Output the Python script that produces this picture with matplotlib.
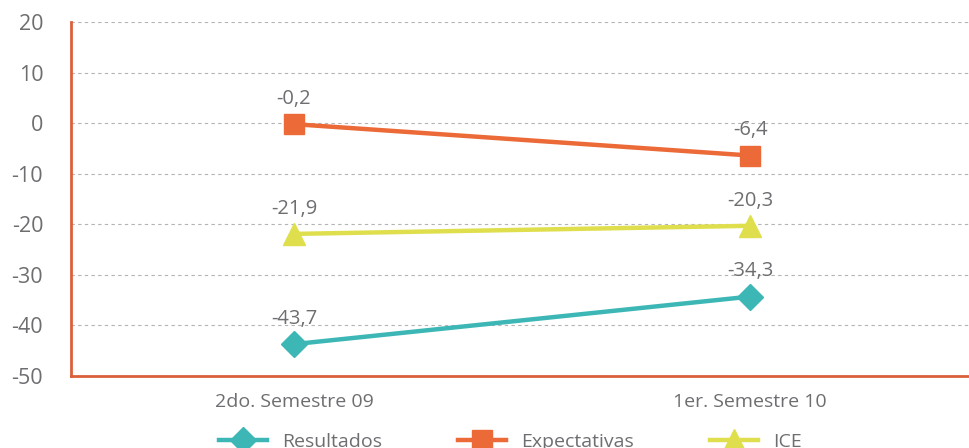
import matplotlib
matplotlib.use("Agg")
import matplotlib.pyplot as plt

categories = ["2do. Semestre 09", "1er. Semestre 10"]
resultados = [-43.7, -34.3]
expectativas = [-0.2, -6.4]
ice = [-21.9, -20.3]
series_names = ["Resultados", "Expectativas", "ICE"]
yticks = [20, 10, 0, -10, -20, -30, -40, -50]

TEXT = "#6d6e71"
SPINE = "#d9603b"
COLORS = ["#3db7b6", "#ec6a38", "#dfdf4d"]
MARKERS = ["D", "s", "^"]
MSIZE = [13, 14, 16]

plt.rcParams["font.family"] = ["Open Sans", "DejaVu Sans"]
plt.rcParams["axes.unicode_minus"] = False

fig = plt.figure(figsize=(9.69, 4.48), dpi=100)
ax = fig.add_axes([71 / 969, 1 - 376 / 448, 1 - 71 / 969, (376 - 22) / 448])

x = list(range(len(categories)))
for vals, name, c, m, ms in zip([resultados, expectativas, ice], series_names, COLORS, MARKERS, MSIZE):
    ax.plot(x, vals, color=c, linewidth=3.2, marker=m, markersize=ms, label=name, zorder=3)
    for xi, v in zip(x, vals):
        ax.annotate(f"{v:.1f}".replace(".", ","), (xi, v), xytext=(0, 11), textcoords="offset points",
                    ha="center", va="bottom", fontsize=14.5, color=TEXT)

ax.set_ylim(-50, 20)
ax.set_yticks(yticks)
ax.set_xlim(-0.489, 1.48)
ax.set_xticks(x)
ax.set_xticklabels(categories)
ax.tick_params(axis="both", length=0, colors=TEXT)
ax.tick_params(axis="x", pad=12, labelsize=14)
ax.tick_params(axis="y", pad=20, labelsize=15.5)
ax.grid(axis="y", color="#b3b3b3", linestyle=(0, (3, 3)), linewidth=0.8)
for s in ["top", "right"]:
    ax.spines[s].set_visible(False)
for s in ["left", "bottom"]:
    ax.spines[s].set_color(SPINE)
    ax.spines[s].set_linewidth(2)

handles, labels = ax.get_legend_handles_labels()
leg = fig.legend(handles, labels, loc="lower center", bbox_to_anchor=(0.527, -0.045), ncol=3,
                 frameon=False, fontsize=14, handlelength=2.45, columnspacing=3.9, handletextpad=0.8)
for t in leg.get_texts():
    t.set_color(TEXT)

fig.savefig("out.png", dpi=100)
